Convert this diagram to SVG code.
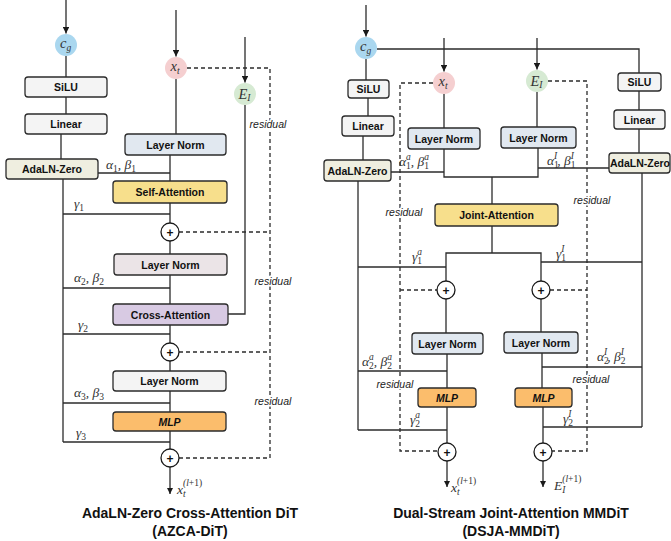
<svg xmlns="http://www.w3.org/2000/svg" width="671" height="541" viewBox="0 0 671 541">
<style>
.ln{stroke:#2b2b2b;stroke-width:1.3;fill:none}
.ds{stroke:#2b2b2b;stroke-width:1.3;fill:none;stroke-dasharray:4 3}
.bx{stroke:#2b2b2b;stroke-width:1.3}
.bt{font-family:"Liberation Sans",Arial,sans-serif;font-weight:bold;font-size:10.5px;fill:#111;text-anchor:middle}
.bi{font-style:italic}
.m{font-family:"Liberation Serif","Times New Roman",serif;font-style:italic;font-size:13.5px;fill:#333}
.c{font-size:14.5px}
.sb{font-size:9.5px}
.n{font-style:normal}
.res{font-family:"Liberation Sans",Arial,sans-serif;font-style:italic;font-size:10.5px;fill:#222;text-anchor:middle;stroke:#fff;stroke-width:3;paint-order:stroke}
.pc{fill:#fff;stroke:#1a1a1a;stroke-width:1.3}
.pt{font-family:"Liberation Sans",Arial,sans-serif;font-weight:bold;font-size:12px;fill:#111;text-anchor:middle}
.ti{font-family:"Liberation Sans",Arial,sans-serif;font-weight:bold;font-size:14px;fill:#111;text-anchor:middle}
.gray{fill:#f4f4f4}.beige{fill:#efeee0}.blue{fill:#e1e8f0}.yel{fill:#f7df8c}.pink{fill:#ebe4e7}.pur{fill:#d8cae3}.org{fill:#fbbd6c}
</style>
<defs>
<marker id="ah" viewBox="0 0 10 10" refX="10" refY="5" markerWidth="5" markerHeight="5" orient="auto"><path d="M0,0 L10,5 L0,10 z" fill="#1a1a1a"/></marker>
</defs>

<!-- ============ LEFT: AZCA-DiT ============ -->
<g id="connectors-left">
<line class="ln" x1="66" y1="0" x2="66" y2="33.5" marker-end="url(#ah)"/>
<line class="ln" x1="66" y1="56" x2="66" y2="77"/>
<line class="ln" x1="66" y1="97" x2="66" y2="114"/>
<line class="ln" x1="61" y1="134" x2="61" y2="159"/>
<line class="ln" x1="63" y1="179" x2="63" y2="442"/>
<line class="ln" x1="98" y1="173" x2="170" y2="173"/>
<line class="ln" x1="63" y1="214" x2="170" y2="214"/>
<line class="ln" x1="63" y1="288" x2="170" y2="288"/>
<line class="ln" x1="63" y1="334" x2="170" y2="334"/>
<line class="ln" x1="63" y1="403" x2="170" y2="403"/>
<line class="ln" x1="63" y1="442" x2="170" y2="442"/>
<line class="ln" x1="176" y1="10" x2="176" y2="56.5" marker-end="url(#ah)"/>
<line class="ln" x1="176" y1="79" x2="176" y2="134"/>
<line class="ln" x1="170" y1="155" x2="170" y2="181"/>
<line class="ln" x1="170" y1="203" x2="170" y2="223"/>
<line class="ln" x1="170" y1="241" x2="170" y2="254"/>
<line class="ln" x1="170" y1="275" x2="170" y2="304"/>
<line class="ln" x1="170" y1="325" x2="170" y2="343"/>
<line class="ln" x1="170" y1="361" x2="170" y2="371"/>
<line class="ln" x1="170" y1="391" x2="170" y2="412"/>
<line class="ln" x1="170" y1="431" x2="170" y2="449"/>
<line class="ln" x1="170" y1="467" x2="170" y2="494" marker-end="url(#ah)"/>
<line class="ln" x1="245" y1="37" x2="245" y2="82.5" marker-end="url(#ah)"/>
<polyline class="ln" points="245,105 245,314 228,314"/>
<polyline class="ds" points="187,68 270,68 270,458 179,458"/>
<line class="ds" x1="179" y1="232" x2="270" y2="232"/>
<line class="ds" x1="179" y1="352" x2="270" y2="352"/>
<text class="res" x="268" y="128">residual</text>
<text class="res" x="273" y="285">residual</text>
<text class="res" x="273" y="405">residual</text>
<text class="m" x="106" y="169">α<tspan class="sb n" dy="3">1</tspan><tspan dy="-3">, β</tspan><tspan class="sb n" dy="3">1</tspan></text>
<text class="m" x="74" y="208">γ<tspan class="sb n" dy="3">1</tspan></text>
<text class="m" x="74" y="282">α<tspan class="sb n" dy="3">2</tspan><tspan dy="-3">, β</tspan><tspan class="sb n" dy="3">2</tspan></text>
<text class="m" x="78" y="329">γ<tspan class="sb n" dy="3">2</tspan></text>
<text class="m" x="74" y="397">α<tspan class="sb n" dy="3">3</tspan><tspan dy="-3">, β</tspan><tspan class="sb n" dy="3">3</tspan></text>
<text class="m" x="76" y="437">γ<tspan class="sb n" dy="3">3</tspan></text>
<text class="m" x="177" y="494">x<tspan class="sb" dy="3">t</tspan><tspan class="sb" dx="-2.6" dy="-11">(<tspan>l</tspan><tspan class="n">+1)</tspan></tspan></text>
</g>

<g id="cg-left"><circle cx="66" cy="45" r="11" fill="#aad7ef"/><text class="m c" x="60" y="48">c<tspan class="sb" dy="3">g</tspan></text></g>
<g id="silu-left"><rect class="bx gray" x="25" y="77" width="82" height="20" rx="3"/><text class="bt" x="66" y="91">SiLU</text></g>
<g id="linear-left"><rect class="bx gray" x="25" y="114" width="82" height="20" rx="3"/><text class="bt" x="66" y="128">Linear</text></g>
<g id="adaln-left"><rect class="bx beige" x="6" y="159" width="92" height="20" rx="3"/><text class="bt" x="52" y="173">AdaLN-Zero</text></g>
<g id="xt-left"><circle cx="176" cy="68" r="11" fill="#f5cfd0"/><text class="m c" x="170.5" y="71">x<tspan class="sb" dy="3">t</tspan></text></g>
<g id="ei-left"><circle cx="245" cy="94" r="11" fill="#d6ead3"/><text class="m c" x="238.5" y="98.5">E<tspan class="sb" dy="2.5">I</tspan></text></g>
<g id="ln1-left"><rect class="bx blue" x="125" y="134" width="101" height="21" rx="3"/><text class="bt" x="175.5" y="148.5">Layer Norm</text></g>
<g id="sa-left"><rect class="bx yel" x="113" y="181" width="114" height="22" rx="3"/><text class="bt" x="170" y="196">Self-Attention</text></g>
<g id="plus1-left"><circle class="pc" cx="170" cy="232" r="9"/><text class="pt" x="170" y="236.5">+</text></g>
<g id="ln2-left"><rect class="bx pink" x="114" y="254" width="113" height="21" rx="3"/><text class="bt" x="170.5" y="268.5">Layer Norm</text></g>
<g id="ca-left"><rect class="bx pur" x="113" y="304" width="115" height="21" rx="3"/><text class="bt" x="170.5" y="318.5">Cross-Attention</text></g>
<g id="plus2-left"><circle class="pc" cx="170" cy="352" r="9"/><text class="pt" x="170" y="356.5">+</text></g>
<g id="ln3-left"><rect class="bx gray" x="113" y="371" width="113" height="20" rx="3"/><text class="bt" x="169.5" y="385">Layer Norm</text></g>
<g id="mlp-left"><rect class="bx org" x="113" y="412" width="113" height="19" rx="3"/><text class="bt bi" x="169.5" y="425.5">MLP</text></g>
<g id="plus3-left"><circle class="pc" cx="170" cy="458" r="9"/><text class="pt" x="170" y="462.5">+</text></g>
<g id="title-left"><text class="ti" x="190" y="518">AdaLN-Zero Cross-Attention DiT</text><text class="ti" x="190" y="536">(AZCA-DiT)</text></g>

<!-- ============ RIGHT: DSJA-MMDiT ============ -->
<g id="connectors-right">
<line class="ln" x1="366" y1="5" x2="366" y2="36.5" marker-end="url(#ah)"/>
<polyline class="ln" points="377,49 639,49 639,73"/>
<line class="ln" x1="366" y1="59" x2="366" y2="80"/>
<line class="ln" x1="368" y1="98" x2="368" y2="116"/>
<line class="ln" x1="363" y1="136" x2="363" y2="160"/>
<line class="ln" x1="358" y1="181" x2="358" y2="430"/>
<line class="ln" x1="391" y1="172" x2="444" y2="172"/>
<line class="ln" x1="444" y1="38" x2="444" y2="71.5" marker-end="url(#ah)"/>
<line class="ln" x1="444" y1="94" x2="444" y2="128"/>
<line class="ln" x1="537" y1="38" x2="537" y2="69.5" marker-end="url(#ah)"/>
<line class="ln" x1="537" y1="92" x2="537" y2="127"/>
<polyline class="ln" points="444,149 444,177 538,177 538,148"/>
<line class="ln" x1="492" y1="177" x2="492" y2="204"/>
<line class="ln" x1="538" y1="168" x2="609" y2="168"/>
<line class="ln" x1="639" y1="91" x2="639" y2="110"/>
<line class="ln" x1="639" y1="129" x2="639" y2="153"/>
<line class="ln" x1="642" y1="173" x2="642" y2="427"/>
<line class="ln" x1="492" y1="226" x2="492" y2="253"/>
<polyline class="ln" points="446,281 446,253 541,253 541,281"/>
<line class="ln" x1="358" y1="267" x2="446" y2="267"/>
<line class="ln" x1="541" y1="262" x2="642" y2="262"/>
<line class="ln" x1="446" y1="299" x2="446" y2="333"/>
<line class="ln" x1="541" y1="299" x2="541" y2="332"/>
<line class="ln" x1="447" y1="354" x2="447" y2="388"/>
<line class="ln" x1="542" y1="353" x2="542" y2="388"/>
<line class="ln" x1="358" y1="371" x2="447" y2="371"/>
<line class="ln" x1="542" y1="367" x2="642" y2="367"/>
<line class="ln" x1="447" y1="407" x2="447" y2="443"/>
<line class="ln" x1="543" y1="407" x2="543" y2="443"/>
<line class="ln" x1="358" y1="430" x2="447" y2="430"/>
<line class="ln" x1="543" y1="427" x2="642" y2="427"/>
<line class="ln" x1="447" y1="461" x2="447" y2="487" marker-end="url(#ah)"/>
<line class="ln" x1="543" y1="461" x2="543" y2="487" marker-end="url(#ah)"/>
<polyline class="ds" points="433,83 400,83 400,451 438,451"/>
<line class="ds" x1="400" y1="290" x2="437" y2="290"/>
<polyline class="ds" points="548,81 587,81 587,451 552,451"/>
<line class="ds" x1="550" y1="290" x2="587" y2="290"/>
<text class="res" x="404" y="216">residual</text>
<text class="res" x="592" y="204">residual</text>
<text class="res" x="395" y="388">residual</text>
<text class="res" x="591" y="383">residual</text>
<text class="m" x="399" y="166">α<tspan class="sb n" dy="3">1</tspan><tspan class="sb" dx="-4.75" dy="-9">a</tspan><tspan dy="6">, β</tspan><tspan class="sb n" dy="3">1</tspan><tspan class="sb" dx="-4.75" dy="-9">a</tspan></text>
<text class="m" x="547" y="165">α<tspan class="sb n" dy="3">1</tspan><tspan class="sb" dx="-4.75" dy="-9">I</tspan><tspan dy="6">, β</tspan><tspan class="sb n" dy="3">1</tspan><tspan class="sb" dx="-4.75" dy="-9">I</tspan></text>
<text class="m" x="412" y="261">γ<tspan class="sb n" dy="3">1</tspan><tspan class="sb" dx="-4.75" dy="-9">a</tspan></text>
<text class="m" x="556" y="258">γ<tspan class="sb n" dy="3">1</tspan><tspan class="sb" dx="-4.75" dy="-9">I</tspan></text>
<text class="m" x="362" y="366">α<tspan class="sb n" dy="3">2</tspan><tspan class="sb" dx="-4.75" dy="-9">a</tspan><tspan dy="6">, β</tspan><tspan class="sb n" dy="3">2</tspan><tspan class="sb" dx="-4.75" dy="-9">a</tspan></text>
<text class="m" x="597" y="361">α<tspan class="sb n" dy="3">2</tspan><tspan class="sb" dx="-4.75" dy="-9">I</tspan><tspan dy="6">, β</tspan><tspan class="sb n" dy="3">2</tspan><tspan class="sb" dx="-4.75" dy="-9">I</tspan></text>
<text class="m" x="410" y="424">γ<tspan class="sb n" dy="3">2</tspan><tspan class="sb" dx="-4.75" dy="-9">a</tspan></text>
<text class="m" x="563" y="423">γ<tspan class="sb n" dy="3">2</tspan><tspan class="sb" dx="-4.75" dy="-9">I</tspan></text>
<text class="m" x="451" y="492">x<tspan class="sb" dy="3">t</tspan><tspan class="sb" dx="-2.6" dy="-11">(<tspan>l</tspan><tspan class="n">+1)</tspan></tspan></text>
<text class="m" x="554" y="490">E<tspan class="sb" dy="3">I</tspan><tspan class="sb" dx="-3.2" dy="-11">(<tspan>l</tspan><tspan class="n">+1)</tspan></tspan></text>
</g>

<g id="cg-right"><circle cx="366" cy="48" r="11" fill="#aad7ef"/><text class="m c" x="360" y="51">c<tspan class="sb" dy="3">g</tspan></text></g>
<g id="silu-right1"><rect class="bx gray" x="348" y="80" width="41" height="18" rx="3"/><text class="bt" x="368.5" y="93">SiLU</text></g>
<g id="linear-right1"><rect class="bx gray" x="342" y="116" width="52" height="20" rx="3"/><text class="bt" x="368" y="130">Linear</text></g>
<g id="adaln-right1"><rect class="bx beige" x="324" y="160" width="67" height="21" rx="3"/><text class="bt" x="357.5" y="174.5">AdaLN-Zero</text></g>
<g id="xt-right"><circle cx="444" cy="83" r="11" fill="#f5cfd0"/><text class="m c" x="438.5" y="86">x<tspan class="sb" dy="3">t</tspan></text></g>
<g id="ei-right"><circle cx="537" cy="81" r="11" fill="#d6ead3"/><text class="m c" x="530.5" y="85.5">E<tspan class="sb" dy="2.5">I</tspan></text></g>
<g id="ln-x-right"><rect class="bx blue" x="408" y="128" width="72" height="21" rx="3"/><text class="bt" x="444" y="142.5">Layer Norm</text></g>
<g id="ln-e-right"><rect class="bx blue" x="501" y="127" width="75" height="21" rx="3"/><text class="bt" x="538.5" y="141.5">Layer Norm</text></g>
<g id="silu-right2"><rect class="bx gray" x="618" y="73" width="43" height="18" rx="3"/><text class="bt" x="639.5" y="86">SiLU</text></g>
<g id="linear-right2"><rect class="bx gray" x="614" y="110" width="51" height="19" rx="3"/><text class="bt" x="639.5" y="123.5">Linear</text></g>
<g id="adaln-right2"><rect class="bx beige" x="609" y="153" width="61" height="20" rx="3"/><text class="bt" x="640" y="167">AdaLN-Zero</text></g>
<g id="ja-right"><rect class="bx yel" x="435" y="204" width="123" height="22" rx="3"/><text class="bt" x="496.5" y="219">Joint-Attention</text></g>
<g id="plus1-rx"><circle class="pc" cx="446" cy="290" r="9"/><text class="pt" x="446" y="294.5">+</text></g>
<g id="plus1-re"><circle class="pc" cx="541" cy="290" r="9"/><text class="pt" x="541" y="294.5">+</text></g>
<g id="ln2-rx"><rect class="bx blue" x="412" y="333" width="71" height="21" rx="3"/><text class="bt" x="447.5" y="347.5">Layer Norm</text></g>
<g id="ln2-re"><rect class="bx blue" x="504" y="332" width="74" height="21" rx="3"/><text class="bt" x="541" y="346.5">Layer Norm</text></g>
<g id="mlp-rx"><rect class="bx org" x="418" y="388" width="58" height="19" rx="3"/><text class="bt bi" x="447" y="401.5">MLP</text></g>
<g id="mlp-re"><rect class="bx org" x="515" y="388" width="57" height="19" rx="3"/><text class="bt bi" x="543.5" y="401.5">MLP</text></g>
<g id="plus2-rx"><circle class="pc" cx="447" cy="452" r="9"/><text class="pt" x="447" y="456.5">+</text></g>
<g id="plus2-re"><circle class="pc" cx="543" cy="452" r="9"/><text class="pt" x="543" y="456.5">+</text></g>
<g id="title-right"><text class="ti" x="511" y="518">Dual-Stream Joint-Attention MMDiT</text><text class="ti" x="511" y="536">(DSJA-MMDiT)</text></g>
</svg>
